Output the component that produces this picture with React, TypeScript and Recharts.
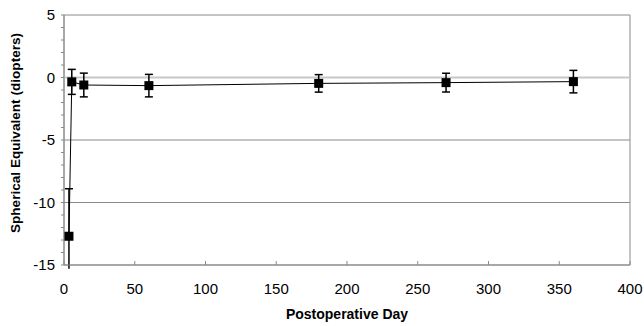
import {
  ComposedChart,
  Line,
  ErrorBar,
  XAxis,
  YAxis,
  ReferenceLine,
  ReferenceArea,
  Label,
} from "recharts";

// postoperative day, mean spherical equivalent, SD
const days = [3.5, 5.5, 14, 60, 180, 270, 360];
const meanSE = [-12.7, -0.35, -0.6, -0.65, -0.47, -0.41, -0.33];
const sdSE = [3.8, 1.0, 0.95, 0.9, 0.7, 0.75, 0.9];
// the first bar runs off the bottom of the plot, only a stub is shown below -15
const firstSdVisibleDown = 2.6;

const xTicks = [0, 50, 100, 150, 200, 250, 300, 350, 400];
const yTicks = [-15, -14, -13, -12, -11, -10, -9, -8, -7, -6, -5, -4, -3, -2, -1, 0, 1, 2, 3, 4, 5];
const gridValues = [-10, -5, 0];

const data = days.map((d, i) => ({ day: d, se: meanSE[i], sd: sdSE[i] }));
const firstData = [
  { day: days[0], se: meanSE[0], up: [0, sdSE[0]], down: [firstSdVisibleDown, 0] },
];
const restData = data.slice(1);

const font = "'Liberation Sans', Arial, sans-serif";

const SquareDot = (props: any) => {
  const { cx, cy } = props;
  if (cx == null || cy == null) return null;
  return <rect x={cx - 4.5} y={cy - 4.5} width={9} height={9} fill="#000" />;
};

const NoDot = () => null;

const YTick = (props: any) => {
  const { x, y, payload } = props;
  if (payload.value % 5 !== 0) return null;
  return (
    <text x={x} y={y} dy={5} textAnchor="end" fontSize={15} fill="#000" fontFamily={font}>
      {payload.value}
    </text>
  );
};

const YLabel = (props: any) => {
  const vb = props.viewBox;
  const cx = vb.x + 15;
  const cy = vb.y + vb.height / 2 - 7;
  return (
    <text
      x={cx}
      y={cy}
      transform={`rotate(-90, ${cx}, ${cy})`}
      textAnchor="middle"
      dominantBaseline="central"
      fontSize={13.6}
      fontWeight="bold"
      fill="#000"
      fontFamily={font}
    >
      Spherical Equivalent (diopters)
    </text>
  );
};

export default function App() {
  return (
    <div style={{ position: "fixed", left: 0, top: 0, background: "#fff" }}>
      <ComposedChart
        width={644}
        height={326}
        data={data}
        margin={{ top: 15, right: 14, left: 0, bottom: 0 }}
      >
        <ReferenceArea x1={0} x2={400} y1={-15} y2={5} fill="none" stroke="#8a8a8a" strokeWidth={1} />
        {gridValues.map((v) => (
          <ReferenceLine key={v} y={v} stroke={v === 0 ? "#c8c8c8" : "#8a8a8a"} strokeWidth={v === 0 ? 2 : 1} />
        ))}
        <XAxis
          dataKey="day"
          type="number"
          domain={[0, 400]}
          ticks={xTicks}
          interval={0}
          height={61}
          tickSize={-4}
          tickMargin={22}
          stroke="#8a8a8a"
          tick={{ fontSize: 15, fill: "#000", fontFamily: font }}
        >
          <Label
            value="Postoperative Day"
            position="insideBottom"
            offset={7}
            style={{ fontSize: 14, fontWeight: "bold", fill: "#000", fontFamily: font }}
          />
        </XAxis>
        <YAxis
          type="number"
          domain={[-15, 5]}
          ticks={yTicks}
          interval={0}
          allowDataOverflow
          width={64}
          tickSize={3}
          tickMargin={6}
          stroke="#8a8a8a"
          tick={<YTick />}
        >
          <Label content={<YLabel />} />
        </YAxis>
        <Line
          data={restData}
          type="linear"
          dataKey="se"
          stroke="none"
          dot={<NoDot />}
          activeDot={false}
          legendType="none"
          isAnimationActive={false}
        >
          <ErrorBar dataKey="sd" width={4} stroke="#000" strokeWidth={1.5} direction="y" isAnimationActive={false} />
        </Line>
        <Line
          data={firstData}
          type="linear"
          dataKey="se"
          stroke="none"
          dot={<NoDot />}
          activeDot={false}
          legendType="none"
          isAnimationActive={false}
        >
          <ErrorBar dataKey="up" width={4} stroke="#000" strokeWidth={1.5} direction="y" isAnimationActive={false} />
          <ErrorBar dataKey="down" width={0} stroke="#000" strokeWidth={1.5} direction="y" isAnimationActive={false} />
        </Line>
        <Line
          type="linear"
          dataKey="se"
          stroke="#000"
          strokeWidth={1}
          dot={<SquareDot />}
          activeDot={false}
          isAnimationActive={false}
        />
      </ComposedChart>
    </div>
  );
}
